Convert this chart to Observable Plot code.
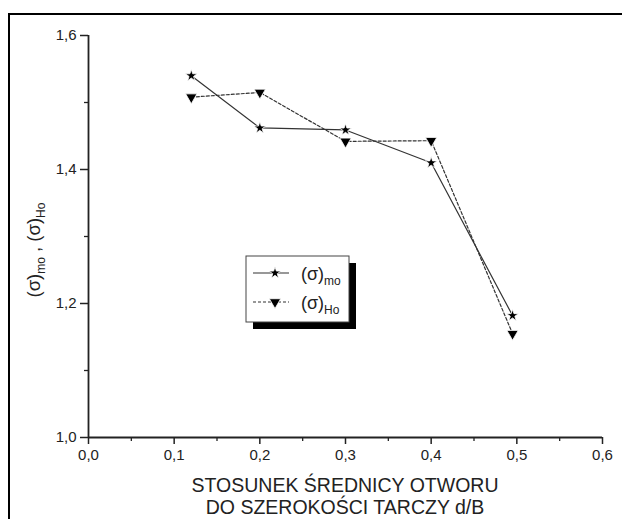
<!DOCTYPE html>
<html><head><meta charset="utf-8">
<script src="https://cdn.jsdelivr.net/npm/d3@7"></script>
<script src="https://cdn.jsdelivr.net/npm/@observablehq/plot@0.6"></script>
<style>body{margin:0;background:#fff}#chart svg{display:block}</style>
</head><body><div id="chart"></div>
<script>
// data
const ratio = [0.12, 0.2, 0.3, 0.4, 0.495];
const sigmaMo = [1.540, 1.462, 1.459, 1.410, 1.182];
const sigmaHo = [1.508, 1.515, 1.442, 1.443, 1.155];
const xTicks = [0, 0.1, 0.2, 0.3, 0.4, 0.5, 0.6];
const xMinor = [0.05, 0.15, 0.25, 0.35, 0.45, 0.55];
const yTicks = [1.0, 1.2, 1.4, 1.6];
const yMinor = [1.1, 1.3, 1.5];
const xTitle = ["STOSUNEK ŚREDNICY OTWORU", "DO SZEROKOŚCI TARCZY d/B"];

const fmt = d => d.toFixed(1).replace(".", ",");
const moData = ratio.map((v, i) => ({x: v, y: sigmaMo[i]}));
const hoData = ratio.map((v, i) => ({x: v, y: sigmaHo[i]}));
const FONT = "'Liberation Sans', Arial, sans-serif";

const chart = Plot.plot({
  width: 622, height: 519,
  marginLeft: 88, marginRight: 20, marginTop: 35, marginBottom: 82,
  style: {fontFamily: FONT, fontSize: "15px", color: "#222", background: "white"},
  x: {domain: [0, 0.6]},
  y: {domain: [1, 1.6]},
  marks: [
    Plot.axisX({ticks: xTicks, tickFormat: fmt, tickSize: 7, tickPadding: 5, label: null, strokeWidth: 1.5, fontSize: 15}),
    Plot.axisX({ticks: xMinor, tickFormat: () => "", tickSize: 4, label: null, strokeWidth: 1.3}),
    Plot.axisY({ticks: yTicks, tickFormat: fmt, tickSize: 8, tickPadding: 4, label: null, strokeWidth: 1.5, fontSize: 15}),
    Plot.axisY({ticks: yMinor, tickFormat: () => "", tickSize: 4, label: null, strokeWidth: 1.3}),
    Plot.ruleX([0], {stroke: "#222", strokeWidth: 1.8}),
    Plot.ruleY([1], {stroke: "#222", strokeWidth: 1.8}),
    Plot.line(moData, {x: "x", y: "y", stroke: "#333", strokeWidth: 1.2}),
    Plot.line(hoData, {x: "x", y: "y", stroke: "#333", strokeWidth: 1.2, strokeDasharray: "3,2"}),
    Plot.dot(moData, {x: "x", y: "y", symbol: "star", r: 3.7, fill: "black", stroke: "white", strokeWidth: 0.8}),
    Plot.dot(hoData, {x: "x", y: "y", symbol: "triangle", rotate: 180, r: 4.2, fill: "black", stroke: "white", strokeWidth: 0.8})
  ]
});
document.getElementById("chart").append(chart);

const svg = d3.select(chart);
// outer frame
svg.insert("rect", ":first-child").attr("x", 9).attr("y", 14).attr("width", 622).attr("height", 520)
  .attr("fill", "none").attr("stroke", "#000").attr("stroke-width", 2);

// y-axis label with subscripts
const yl = svg.append("text").attr("transform", "translate(40,250) rotate(-90)")
  .attr("text-anchor", "middle").attr("font-family", FONT).attr("font-size", 18.5).attr("fill", "#222");
yl.append("tspan").text("(σ)");
yl.append("tspan").attr("font-size", 12).attr("dy", 5).text("mo");
yl.append("tspan").attr("dy", -5).text(" , (σ)");
yl.append("tspan").attr("font-size", 12).attr("dy", 5).text("Ho");

// x-axis title
xTitle.forEach((t, i) => {
  svg.append("text").attr("x", 345).attr("y", 492 + i * 22).attr("text-anchor", "middle")
    .attr("font-family", FONT).attr("font-size", 19.5).attr("fill", "#222").text(t);
});

// legend
const lg = svg.append("g");
lg.append("rect").attr("x", 253).attr("y", 263).attr("width", 103).attr("height", 66).attr("fill", "#000");
lg.append("rect").attr("x", 246).attr("y", 256).attr("width", 103).attr("height", 66).attr("fill", "#fff").attr("stroke", "#444").attr("stroke-width", 1);
const rows = [
  {label: "mo", dash: null, sym: d3.symbolStar, size: 3.7 * 3.7 * Math.PI, rot: 0, y: 273},
  {label: "Ho", dash: "3,2", sym: d3.symbolTriangle, size: 4.2 * 4.2 * Math.PI, rot: 180, y: 302}
];
rows.forEach(r => {
  lg.append("line").attr("x1", 253).attr("x2", 289).attr("y1", r.y).attr("y2", r.y)
    .attr("stroke", "#333").attr("stroke-width", 1.2).attr("stroke-dasharray", r.dash);
  lg.append("path").attr("d", d3.symbol(r.sym, r.size)()).attr("transform", `translate(275,${r.y}) rotate(${r.rot})`)
    .attr("fill", "#000").attr("stroke", "#fff").attr("stroke-width", 0.8);
  const t = lg.append("text").attr("x", 301).attr("y", r.y + 7).attr("text-anchor", "start")
    .attr("font-family", FONT).attr("font-size", 18).attr("fill", "#222");
  t.append("tspan").text("(σ)");
  t.append("tspan").attr("font-size", 12).attr("dy", 5).text(r.label);
});
</script>
</body></html>
